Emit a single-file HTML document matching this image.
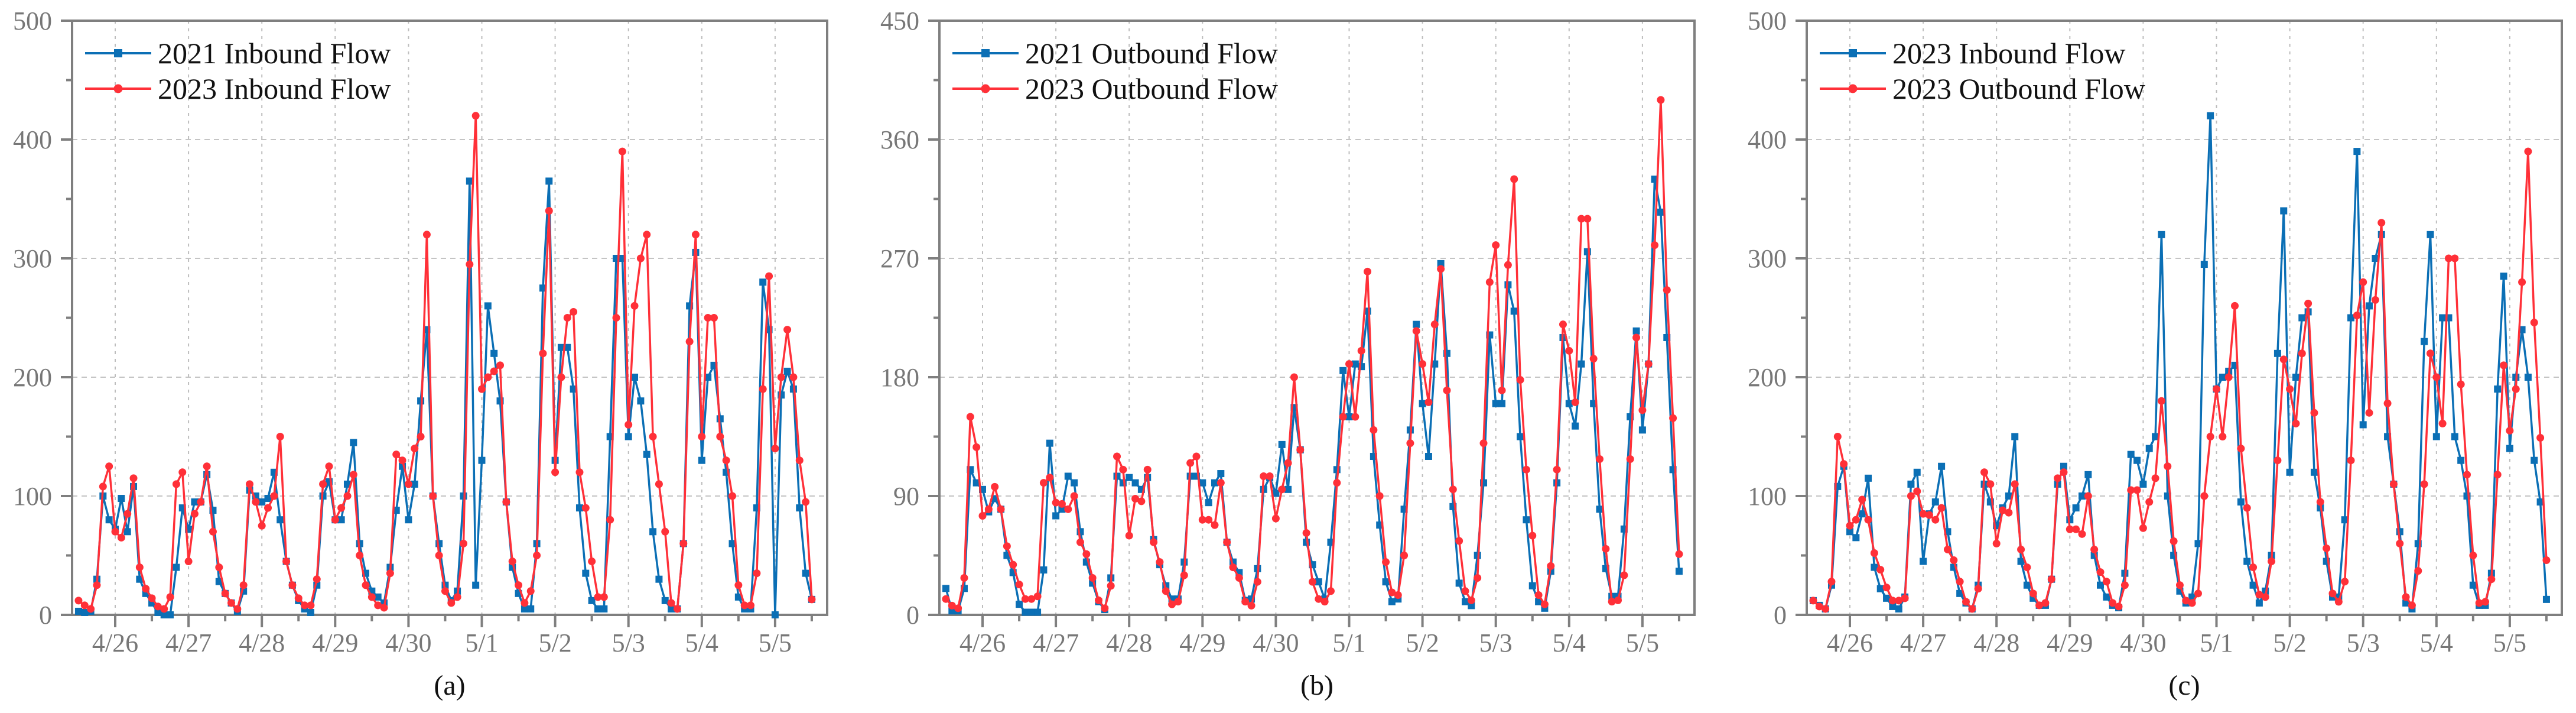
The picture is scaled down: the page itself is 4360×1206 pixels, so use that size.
<!DOCTYPE html>
<html><head><meta charset="utf-8"><title>Inbound/Outbound Flow</title>
<style>
html,body{margin:0;padding:0;background:#fff;}
svg{display:block;}
text{font-family:"Liberation Serif","Times New Roman",serif;}
</style></head>
<body>
<svg id="fig" xmlns="http://www.w3.org/2000/svg" width="4360" height="1206" viewBox="0 0 4360 1206"></svg>
<script>
// hours relative to the 4/26 tick, sampled every 2 hours
const hours = [];
for (let h = -12; h <= 228; h += 2) hours.push(h);
const dayLabels = ["4/26","4/27","4/28","4/29","4/30","5/1","5/2","5/3","5/4","5/5"];
const ticksA = [0,100,200,300,400,500];
const ticksB = [0,90,180,270,360,450];
const ticksC = [0,100,200,300,400,500];

const inbound2021 = [3,2,3,30,100,80,
72,98,70,108,30,18,10,2,0,0,40,90,
72,95,95,118,88,28,18,10,3,20,105,100,
95,98,120,80,45,25,12,5,2,25,100,112,
80,80,110,145,60,35,20,15,10,40,88,125,
80,110,180,240,100,60,25,12,20,100,365,25,
130,260,220,180,95,40,18,5,5,60,275,365,
130,225,225,190,90,35,12,5,5,150,300,300,
150,200,180,135,70,30,12,5,5,60,260,305,
130,200,210,165,120,60,15,5,5,90,280,240,
0,185,205,190,90,35,13];

const inbound2023 = [12,8,5,25,108,125,
70,65,85,115,40,22,14,7,5,15,110,120,
45,85,95,125,70,40,18,10,5,25,110,95,
75,90,100,150,45,25,14,8,8,30,110,125,
80,90,100,118,50,25,15,8,6,35,135,130,
110,140,150,320,100,50,20,10,15,60,295,420,
190,200,205,210,95,45,25,10,20,50,220,340,
120,200,250,255,120,90,45,15,15,80,250,390,
160,260,300,320,150,110,70,10,5,60,230,320,
150,250,250,150,130,100,25,8,8,35,190,285,
140,200,240,200,130,95,13];

const outbound2021 = [20,3,3,20,110,100,
95,78,88,80,45,32,8,2,2,2,34,130,
75,80,105,100,63,40,24,10,4,28,105,100,
104,100,95,104,57,38,22,12,12,40,105,105,
100,85,100,107,55,40,32,11,12,35,95,104,
92,129,95,157,125,55,38,25,12,55,110,185,
150,190,188,230,120,68,25,10,12,80,140,220,
160,120,190,266,198,82,24,10,7,45,100,212,
160,160,250,230,135,72,22,10,5,33,100,210,
160,143,190,275,160,80,35,14,14,65,150,215,
140,190,330,305,210,110,33];

const outbound2023 = [12,7,5,28,150,127,
75,80,97,80,52,38,23,12,12,14,100,104,
85,84,80,90,55,46,28,11,5,22,120,110,
60,88,86,110,55,40,18,8,10,30,115,120,
72,72,68,100,55,36,28,10,7,25,105,105,
73,95,115,180,125,62,25,12,10,18,100,150,
190,150,200,260,140,90,40,17,15,45,130,215,
190,161,220,262,170,95,56,18,11,28,130,252,
280,170,265,330,178,110,60,15,8,37,110,220,
200,161,300,300,194,118,50,10,11,30,118,210,
155,190,280,390,246,149,46];

const NS = "http://www.w3.org/2000/svg";
const svg = document.getElementById("fig");
const BLUE = "#0b6fb5", RED = "#ff3038", AX = "#7f7f7f";
function mk(tag, attrs, parent){
  const e = document.createElementNS(NS, tag);
  for (const k in attrs) e.setAttribute(k, attrs[k]);
  (parent||svg).appendChild(e);
  return e;
}

function panel(id, left, yTicks, seriesList, letter){
  const right = left + 1278, top = 35, bottom = 1040;
  const yMax = yTicks[yTicks.length-1];
  const g = mk("g", {});
  
  
  const xs = h => left + 73 + (h/24)*124.1;
  const ys = v => bottom - (v/yMax)*(bottom-top);
  // grid
  const grid = mk("g", {}, g);
  
  
  dayLabels.forEach((d,i)=>{
    const x = xs(i*24);
    mk("line",{x1:x,x2:x,y1:top,y2:bottom,stroke:"#bdbdbd","stroke-width":2,"stroke-dasharray":"5 8"},grid);
  });
  yTicks.forEach(v=>{
    if (v===0||v===yMax) return;
    mk("line",{x1:left,x2:right,y1:ys(v),y2:ys(v),stroke:"#c4c4c4","stroke-width":2,"stroke-dasharray":"9 7"},grid);
  });
  // frame
  const frame = mk("rect",{x:left,y:top,width:right-left,height:bottom-top,fill:"none",stroke:AX,"stroke-width":4},g);
  
  
  // y ticks
  const yax = mk("g",{},g);
  
  
  yTicks.forEach((v,i)=>{
    mk("line",{x1:left-19,x2:left,y1:ys(v),y2:ys(v),stroke:AX,"stroke-width":4},yax);
    const t = mk("text",{x:left-34,y:ys(v)+15,"text-anchor":"end","font-size":44,fill:"#777"},yax);
    t.textContent = v;
    
    
    if (i < yTicks.length-1){
      const m = ys(v + (yTicks[1]-yTicks[0])/2);
      mk("line",{x1:left-10,x2:left,y1:m,y2:m,stroke:AX,"stroke-width":4},yax);
    }
  });
  // x ticks
  const xax = mk("g",{},g);
  
  
  dayLabels.forEach((d,i)=>{
    const x = xs(i*24);
    mk("line",{x1:x,x2:x,y1:bottom,y2:bottom+21,stroke:AX,"stroke-width":4},xax);
    const xm = xs(i*24+12);
    mk("line",{x1:xm,x2:xm,y1:bottom,y2:bottom+11,stroke:AX,"stroke-width":4},xax);
    const t = mk("text",{x:x,y:bottom+62,"text-anchor":"middle","font-size":44,fill:"#777"},xax);
    t.textContent = d;
    
    
  });
  // series
  seriesList.forEach(s=>{
    const sg = mk("g",{},g);
    
    
    const pts = s.values.map((v,i)=>xs(hours[i]).toFixed(1)+","+ys(v).toFixed(1)).join(" ");
    mk("polyline",{points:pts,fill:"none",stroke:s.color,"stroke-width":3.5,"stroke-linejoin":"round"},sg);
    s.values.forEach((v,i)=>{
      const x = xs(hours[i]), y = ys(v);
      let m;
      if (s.shape==="square") m = mk("rect",{x:x-6,y:y-6,width:12,height:12,fill:s.color},sg);
      else m = mk("circle",{cx:x,cy:y,r:6.5,fill:s.color},sg);
      
      
    });
  });
  // legend
  const lg = mk("g",{},g);
  
  
  seriesList.forEach((s,i)=>{
    const y = 90 + i*60;
    const e = mk("g",{},lg);
    
    
    mk("line",{x1:left+22,x2:left+134,y1:y,y2:y,stroke:s.color,"stroke-width":4},e);
    if (s.shape==="square") mk("rect",{x:left+71,y:y-7,width:14,height:14,fill:s.color},e);
    else mk("circle",{cx:left+78,cy:y,r:7.5,fill:s.color},e);
    const t = mk("text",{x:left+145,y:y+17,"font-size":50,fill:"#111"},e);
    t.textContent = s.label;
  });
  const cap = mk("text",{x:(left+right)/2,y:1175,"text-anchor":"middle","font-size":48,fill:"#111"},g);
  cap.textContent = letter;
  
  
}

panel("a", 122, ticksA, [
  {name:"series-2021-inbound", label:"2021 Inbound Flow", values:inbound2021, color:BLUE, shape:"square"},
  {name:"series-2023-inbound", label:"2023 Inbound Flow", values:inbound2023, color:RED, shape:"circle"}
], "(a)");
panel("b", 1590, ticksB, [
  {name:"series-2021-outbound", label:"2021 Outbound Flow", values:outbound2021, color:BLUE, shape:"square"},
  {name:"series-2023-outbound", label:"2023 Outbound Flow", values:outbound2023, color:RED, shape:"circle"}
], "(b)");
panel("c", 3058, ticksC, [
  {name:"series-2023-inbound-c", label:"2023 Inbound Flow", values:inbound2023, color:BLUE, shape:"square"},
  {name:"series-2023-outbound-c", label:"2023 Outbound Flow", values:outbound2023, color:RED, shape:"circle"}
], "(c)");
</script>
</body></html>
